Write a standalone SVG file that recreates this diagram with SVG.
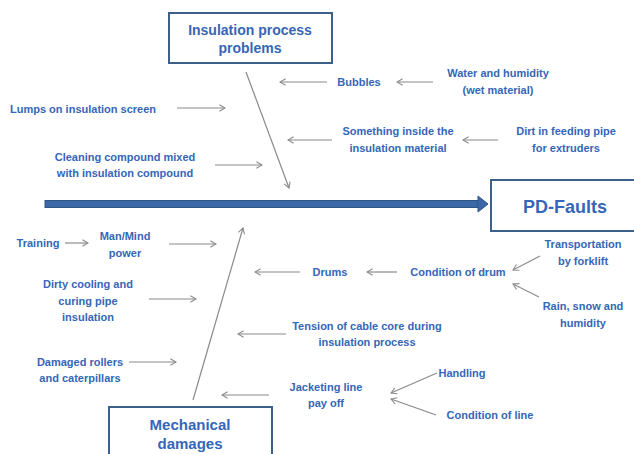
<svg xmlns="http://www.w3.org/2000/svg" width="634" height="454" viewBox="0 0 634 454">
<defs>
<style>
.t{font-family:"Liberation Sans",Arial,sans-serif;font-weight:bold;font-size:11px;fill:#3566b8;text-anchor:middle}
.l{text-anchor:start}
.h{font-size:14px}
.h2{font-size:15px}
.big{font-size:18px}
.box{fill:#fff;stroke:#3d5f8c;stroke-width:2}
.c{stroke:#8a8a8a;stroke-width:1.2;fill:none;marker-end:url(#v)}
</style>
<marker id="v" viewBox="0 0 10 10" refX="9" refY="5" markerWidth="8" markerHeight="8" markerUnits="userSpaceOnUse" orient="auto">
<polyline points="2,1 9,5 2,9" fill="none" stroke="#8a8a8a" stroke-width="1.3"/>
</marker>
</defs>
<rect width="634" height="454" fill="#fff"/>
<g id="connectors">
<line x1="246" y1="72" x2="289" y2="188" class="c"/>
<line x1="193" y1="400" x2="243" y2="228" class="c"/>
<line x1="177" y1="108" x2="225" y2="108" class="c"/>
<line x1="215" y1="165" x2="262" y2="165" class="c"/>
<line x1="327" y1="82" x2="280" y2="82" class="c"/>
<line x1="433" y1="82" x2="397" y2="82" class="c"/>
<line x1="332" y1="140" x2="288" y2="140" class="c"/>
<line x1="498" y1="140" x2="463" y2="140" class="c"/>
<line x1="65" y1="243" x2="88" y2="243" class="c"/>
<line x1="169" y1="244" x2="216" y2="244" class="c"/>
<line x1="149" y1="299" x2="196" y2="299" class="c"/>
<line x1="129" y1="362" x2="176" y2="362" class="c"/>
<line x1="300" y1="272" x2="255" y2="272" class="c"/>
<line x1="397" y1="272" x2="367" y2="272" class="c"/>
<line x1="540" y1="256" x2="513" y2="270" class="c"/>
<line x1="539" y1="297" x2="513" y2="284" class="c"/>
<line x1="286" y1="334" x2="238" y2="334" class="c"/>
<line x1="269" y1="395" x2="222" y2="395" class="c"/>
<line x1="437" y1="373" x2="391" y2="393" class="c"/>
<line x1="436" y1="415" x2="391" y2="399" class="c"/>
<g id="spine">
<rect x="45" y="200.5" width="436" height="7" fill="#3d68a8" stroke="#2f5487" stroke-width="1"/>
<polygon points="478,196 488,204 478,212" fill="#3d68a8" stroke="#2f5487" stroke-width="1"/>
</g>
</g>
<g id="insulation-process-problems">
<rect x="169" y="13" width="163" height="50" class="box"/>
<text x="250" y="35" class="t h">Insulation process</text>
<text x="250" y="53" class="t h">problems</text>
</g>
<g id="pd-faults">
<rect x="491" y="180" width="150" height="51" class="box"/>
<text x="565" y="213" class="t big">PD-Faults</text>
</g>
<g id="mechanical-damages">
<rect x="109" y="407" width="163" height="55" class="box"/>
<text x="190" y="430" class="t h2">Mechanical</text>
<text x="190" y="449" class="t h2">damages</text>
</g>
<g id="lumps"><text x="10" y="113" class="t l">Lumps on insulation screen</text></g>
<g id="cleaning"><text x="125" y="161" class="t">Cleaning compound mixed</text><text x="125" y="177" class="t">with insulation compound</text></g>
<g id="bubbles"><text x="359" y="86" class="t">Bubbles</text></g>
<g id="water"><text x="498" y="77" class="t">Water and humidity</text><text x="498" y="94" class="t">(wet material)</text></g>
<g id="something"><text x="398" y="135" class="t">Something inside the</text><text x="398" y="152" class="t">insulation material</text></g>
<g id="dirt"><text x="566" y="135" class="t">Dirt in feeding pipe</text><text x="566" y="152" class="t">for extruders</text></g>
<g id="training"><text x="38" y="247" class="t">Training</text></g>
<g id="manmind"><text x="125" y="240" class="t">Man/Mind</text><text x="125" y="257" class="t">power</text></g>
<g id="dirty"><text x="88" y="288" class="t">Dirty cooling and</text><text x="88" y="305" class="t">curing pipe</text><text x="88" y="321" class="t">insulation</text></g>
<g id="damaged"><text x="80" y="366" class="t">Damaged rollers</text><text x="80" y="382" class="t">and caterpillars</text></g>
<g id="drums"><text x="330" y="276" class="t">Drums</text></g>
<g id="condition-drum"><text x="458" y="276" class="t">Condition of drum</text></g>
<g id="transport"><text x="583" y="248" class="t">Transportation</text><text x="583" y="265" class="t">by forklift</text></g>
<g id="rain"><text x="583" y="310" class="t">Rain, snow and</text><text x="583" y="327" class="t">humidity</text></g>
<g id="tension"><text x="367" y="330" class="t">Tension of cable core during</text><text x="367" y="346" class="t">insulation process</text></g>
<g id="jacketing"><text x="326" y="391" class="t">Jacketing line</text><text x="326" y="407" class="t">pay off</text></g>
<g id="handling"><text x="462" y="377" class="t">Handling</text></g>
<g id="condition-line"><text x="490" y="419" class="t">Condition of line</text></g>
</svg>
